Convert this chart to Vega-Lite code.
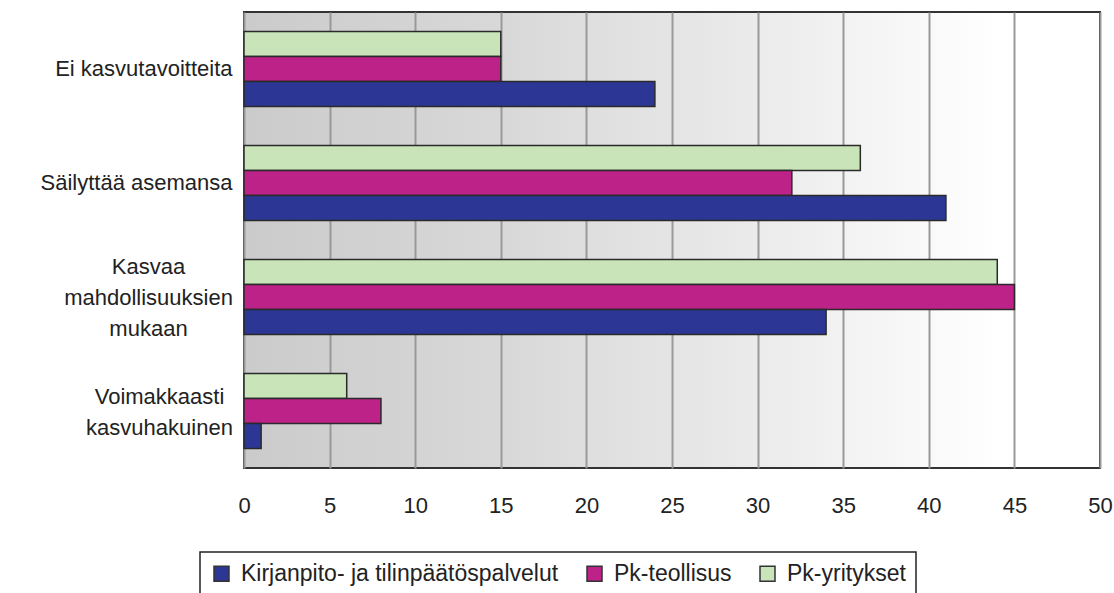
{
  "$schema": "https://vega.github.io/schema/vega-lite/v6.json",
  "autosize": "none",
  "width": 856,
  "height": 456,
  "padding": {"left": 244, "top": 12, "right": 14, "bottom": 125},
  "background": "#ffffff",
  "config": {
    "font": "Liberation Sans",
    "view": {
      "stroke": "#333333",
      "strokeWidth": 2,
      "fill": {
        "gradient": "linear",
        "x1": 0, "y1": 0, "x2": 1, "y2": 0,
        "stops": [
          {"offset": 0, "color": "#cbcbcb"},
          {"offset": 0.3, "color": "#d8d8d8"},
          {"offset": 0.6, "color": "#ebebeb"},
          {"offset": 0.88, "color": "#ffffff"},
          {"offset": 1, "color": "#ffffff"}
        ]
      }
    }
  },
  "data": {
    "values": [
      {"cat": "Ei kasvutavoitteita", "series": "Pk-yritykset", "value": 15},
      {"cat": "Ei kasvutavoitteita", "series": "Pk-teollisus", "value": 15},
      {"cat": "Ei kasvutavoitteita", "series": "Kirjanpito- ja tilinpäätöspalvelut", "value": 24},
      {"cat": "Säilyttää asemansa", "series": "Pk-yritykset", "value": 36},
      {"cat": "Säilyttää asemansa", "series": "Pk-teollisus", "value": 32},
      {"cat": "Säilyttää asemansa", "series": "Kirjanpito- ja tilinpäätöspalvelut", "value": 41},
      {"cat": "Kasvaa|mahdollisuuksien|mukaan", "series": "Pk-yritykset", "value": 44},
      {"cat": "Kasvaa|mahdollisuuksien|mukaan", "series": "Pk-teollisus", "value": 45},
      {"cat": "Kasvaa|mahdollisuuksien|mukaan", "series": "Kirjanpito- ja tilinpäätöspalvelut", "value": 34},
      {"cat": "Voimakkaasti|kasvuhakuinen", "series": "Pk-yritykset", "value": 6},
      {"cat": "Voimakkaasti|kasvuhakuinen", "series": "Pk-teollisus", "value": 8},
      {"cat": "Voimakkaasti|kasvuhakuinen", "series": "Kirjanpito- ja tilinpäätöspalvelut", "value": 1}
    ]
  },
  "mark": {"type": "bar", "stroke": "#2a2a2a", "strokeWidth": 1.5},
  "encoding": {
    "x": {
      "field": "value",
      "type": "quantitative",
      "scale": {"domain": [0, 50], "nice": false},
      "axis": {
        "title": null,
        "values": [0, 5, 10, 15, 20, 25, 30, 35, 40, 45, 50],
        "domain": false,
        "ticks": false,
        "labelFontSize": 22,
        "labelColor": "#222222",
        "labelPadding": 27,
        "labelFlush": false,
        "grid": true,
        "gridColor": "#999999",
        "gridWidth": 2
      }
    },
    "y": {
      "field": "cat",
      "type": "nominal",
      "sort": ["Ei kasvutavoitteita", "Säilyttää asemansa", "Kasvaa|mahdollisuuksien|mukaan", "Voimakkaasti|kasvuhakuinen"],
      "scale": {"paddingInner": 0.34, "paddingOuter": 0.17},
      "axis": {
        "title": null,
        "domain": false,
        "ticks": false,
        "grid": false,
        "labelFontSize": 22,
        "labelColor": "#222222",
        "labelLineHeight": 31,
        "labelLimit": 300,
        "labelExpr": "split(datum.label, '|')",
        "labelAlign": {"condition": {"test": "indexof(datum.value, '|') >= 0", "value": "center"}, "value": "right"},
        "labelPadding": {"condition": [
          {"test": "datum.value == 'Kasvaa|mahdollisuuksien|mukaan'", "value": 96},
          {"test": "datum.value == 'Voimakkaasti|kasvuhakuinen'", "value": 85}
        ], "value": 12},
        "labelOffset": {"condition": [
          {"test": "datum.value == 'Kasvaa|mahdollisuuksien|mukaan'", "value": -30},
          {"test": "datum.value == 'Voimakkaasti|kasvuhakuinen'", "value": -14}
        ], "value": 0}
      }
    },
    "yOffset": {
      "field": "series",
      "type": "nominal",
      "sort": ["Pk-yritykset", "Pk-teollisus", "Kirjanpito- ja tilinpäätöspalvelut"],
      "scale": {"paddingInner": 0, "paddingOuter": 0}
    },
    "color": {
      "field": "series",
      "type": "nominal",
      "scale": {
        "domain": ["Kirjanpito- ja tilinpäätöspalvelut", "Pk-teollisus", "Pk-yritykset"],
        "range": ["#2c3795", "#bc2288", "#c8e4b8"]
      },
      "legend": {
        "title": null,
        "orient": "none",
        "legendX": -44,
        "legendY": 540,
        "direction": "horizontal",
        "padding": 10,
        "strokeColor": "#222222",
        "fillColor": "#ffffff",
        "symbolType": "square",
        "symbolSize": 225,
        "symbolStrokeColor": "#333333",
        "symbolStrokeWidth": 1.5,
        "labelFontSize": 23,
        "labelColor": "#222222",
        "labelOffset": 8,
        "labelLimit": 400,
        "columnPadding": 24,
        "encode": {"legend": {"update": {"strokeWidth": {"value": 1.5}}}}
      }
    }
  }
}
